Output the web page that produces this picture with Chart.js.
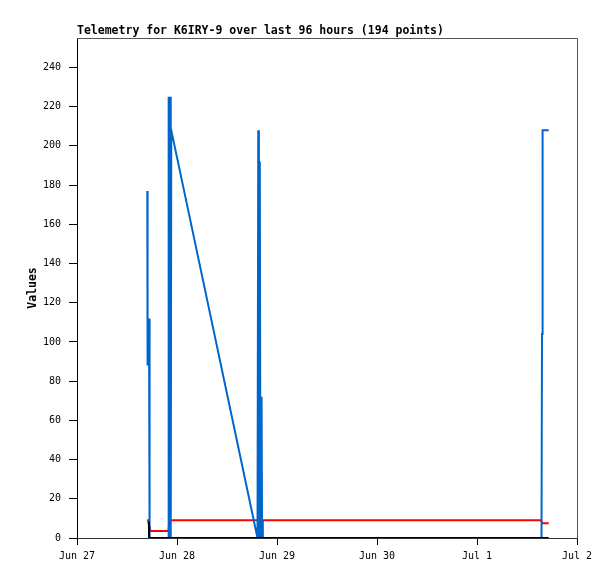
<!DOCTYPE html>
<html>
<head>
<meta charset="utf-8">
<script src="https://cdn.jsdelivr.net/npm/chart.js@4"></script>
<style>
  html, body { margin: 0; padding: 0; background: #fff; }
</style>
</head>
<body>
<canvas id="telemetryChart" width="615" height="579"></canvas>
<script>
// values, x is hours since Jun 27 00:00
const chartTitle = 'Telemetry for K6IRY-9 over last 96 hours (194 points)';
const xTickLabels = ['Jun 27', 'Jun 28', 'Jun 29', 'Jun 30', 'Jul 1', 'Jul 2'];
const xTickHours = [0, 24, 48, 72, 96, 120];
const yTicks = [0, 20, 40, 60, 80, 100, 120, 140, 160, 180, 200, 220, 240];

const blueHours = [16.87, 16.94, 17.28, 17.42, 21.90, 22.00, 22.20, 22.35, 22.50, 22.62, 43.32, 43.50, 43.66, 43.87, 44.04, 44.30, 44.42, 111.48, 111.60, 111.74, 113.21];
const blueValues = [177, 88, 112, 0, 0, 225, 0, 225, 0, 208, 0, 208, 0, 192, 0, 72, 0, 0, 104, 208, 208];

const redHours = [16.80, 17.04, 17.64, 21.96, 22.20, 43.68, 43.80, 44.54, 44.59, 111.36, 111.72, 113.21];
const redValues = [9, 9, 3.6, 3.6, 9, 9, 0, 0, 9, 9, 7.5, 7.5];

const blackHours = [17.25, 17.30, 113.21];
const blackValues = [8.3, 0, 0];

const toPoints = (hours, values) => hours.map((h, i) => ({ x: h, y: values[i] }));

const monoFont = '"DejaVu Sans Mono", "Liberation Mono", monospace';

// title and the top/right edges of the frame
const framePlugin = {
    id: 'frame',
    afterDraw(chart) {
        const { ctx, chartArea } = chart;
        ctx.save();
        ctx.strokeStyle = '#555';
        ctx.lineWidth = 1;
        ctx.beginPath();
        ctx.moveTo(chartArea.left, chartArea.top + 0.5);
        ctx.lineTo(chartArea.right + 0.5, chartArea.top + 0.5);
        ctx.lineTo(chartArea.right + 0.5, chartArea.bottom);
        ctx.stroke();
        ctx.fillStyle = '#000';
        ctx.font = 'bold 11.5px ' + monoFont;
        ctx.textBaseline = 'alphabetic';
        ctx.textAlign = 'left';
        ctx.fillText(chartTitle, chartArea.left, 34);
        ctx.restore();
    }
};

const ctx = document.getElementById('telemetryChart').getContext('2d');
new Chart(ctx, {
    type: 'line',
    data: {
        datasets: [
            { data: toPoints(blackHours, blackValues), borderColor: '#000000', order: 0 },
            { data: toPoints(blueHours, blueValues), borderColor: '#0066cc', order: 1 },
            { data: toPoints(redHours, redValues), borderColor: '#ff0000', order: 2 }
        ]
    },
    options: {
        responsive: false,
        animation: false,
        layout: { padding: { left: 0, top: 38, right: 38, bottom: 0 } },
        elements: {
            line: { borderWidth: 2, tension: 0, fill: false },
            point: { radius: 0, hoverRadius: 0 }
        },
        plugins: {
            legend: { display: false },
            tooltip: { enabled: false }
        },
        scales: {
            x: {
                type: 'linear',
                min: 0,
                max: 120,
                afterBuildTicks: scale => { scale.ticks = xTickHours.map(v => ({ value: v })); },
                afterFit: scale => { scale.height = 41; },
                ticks: {
                    autoSkip: false,
                    maxRotation: 0,
                    padding: 5,
                    color: '#000',
                    font: { family: monoFont, size: 10 },
                    callback: (value, index) => xTickLabels[index]
                },
                grid: { drawOnChartArea: false, tickLength: 7, color: '#000' },
                border: { color: '#333', width: 1 }
            },
            y: {
                min: 0,
                max: 255,
                afterBuildTicks: scale => { scale.ticks = yTicks.map(v => ({ value: v })); },
                afterFit: scale => { scale.width = 77; },
                ticks: {
                    padding: 8,
                    color: '#000',
                    font: { family: monoFont, size: 10 }
                },
                grid: { drawOnChartArea: false, tickLength: 8, color: '#000' },
                border: { color: '#000', width: 1 },
                title: {
                    display: true,
                    text: 'Values',
                    color: '#000',
                    font: { family: monoFont, size: 11.5, weight: 'bold' },
                    padding: { top: 26, bottom: 0 }
                }
            }
        }
    },
    plugins: [framePlugin]
});
</script>
</body>
</html>
